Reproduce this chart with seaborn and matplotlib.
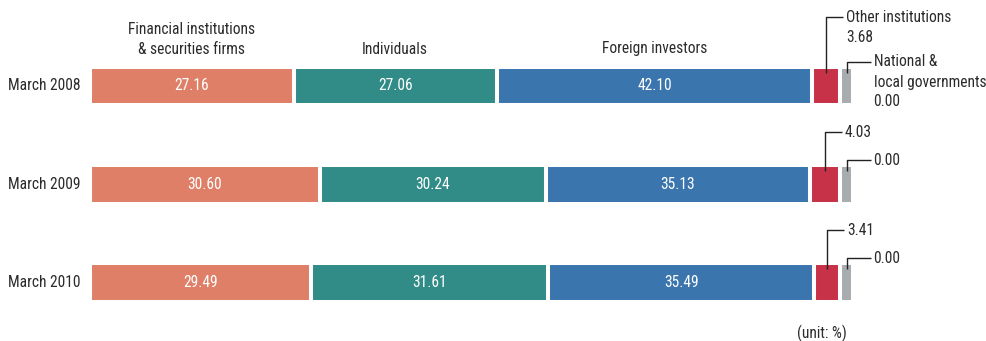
import matplotlib
matplotlib.use("Agg")
import matplotlib.pyplot as plt
from matplotlib import font_manager
import numpy as np
import pandas as pd
import seaborn as sns

# Shareholding by type of holder (%)
periods = ["March 2008", "March 2009", "March 2010"]
holders = [
    "Financial institutions\n& securities firms",
    "Individuals",
    "Foreign investors",
    "Other institutions",
    "National &\nlocal governments",
]
financial = [27.16, 30.60, 29.49]
individuals = [27.06, 30.24, 31.61]
foreign = [42.10, 35.13, 35.49]
other = [3.68, 4.03, 3.41]
government = [0.00, 0.00, 0.00]

colors = ["#E07F67", "#318C87", "#3B75AE", "#C73248", "#A8ACAF"]

sns.set_theme(style="white")
available = {f.name for f in font_manager.fontManager.ttflist}
family = "DejaVu Sans"
for cand in ["Liberation Sans Narrow", "Roboto Condensed", "Open Sans Condensed",
             "Noto Sans Condensed", "Liberation Sans", "Noto Sans"]:
    if cand in available:
        family = cand
        break
plt.rcParams["font.family"] = [family, "DejaVu Sans"]

FS = 11.2
TXT = "#2b2b2b"

fig = plt.figure(figsize=(9.86, 3.41), dpi=100)
ax = fig.add_axes([0, 0, 1, 1])

# pixel-based layout of the axes
PX = 7.5          # pixels per percentage point
X0 = 90           # pixel position of 0 %
ROW0 = 86         # pixel centre of first row
ROWSTEP = 98.2    # pixel spacing between rows
W, H = 986, 341


def dx(p):
    return p / PX


def dy(p):
    return p / ROWSTEP


stub = 1.75  # smallest drawn width so a zero share stays visible

series = [financial, individuals, foreign, other,
          [max(v, stub) for v in government]]
cum = np.cumsum(np.array(series), axis=0)

# stacked bars: draw cumulative totals from the outermost segment inwards
for k in range(len(series) - 1, -1, -1):
    df = pd.DataFrame({"period": periods, "end": cum[k]})
    sns.barplot(data=df, x="end", y="period", orient="h", color=colors[k],
                saturation=1, width=0.397, edgecolor="white", linewidth=2.9,
                errorbar=None, ax=ax)

ax.set_xlim(-dx(X0), (W - X0) / PX)
ax.set_ylim((H - ROW0) / ROWSTEP, -ROW0 / ROWSTEP)
ax.axis("off")

# period labels
for i, p in enumerate(periods):
    ax.text(dx(8 - X0), i, p, ha="left", va="center", fontsize=FS, color=TXT)

# values inside the three main segments
for i in range(len(periods)):
    for k in range(3):
        start = cum[k][i] - series[k][i]
        ax.text(start + series[k][i] / 2, i, f"{series[k][i]:.2f}",
                ha="center", va="center", fontsize=FS, color="white")

# column headers above the first row
for k in range(3):
    center = cum[k][0] - series[k][0] / 2
    lines = holders[k].split("\n")
    for j, line in enumerate(reversed(lines)):
        ax.text(center, dy(49 - ROW0) - dy(19.5) * j, line,
                ha="center", va="center", fontsize=FS, color=TXT)

# leader-line labels for the two small segments
line_kw = dict(color="#222222", lw=1.0, solid_capstyle="butt")
for i in range(len(periods)):
    # other institutions
    xc = cum[3][i] - series[3][i] / 2
    rise = 69 if i == 0 else 52
    ytop = i - dy(rise)
    ybot = i - dy(13)
    ax.plot([xc, xc, xc + dx(17)], [ybot, ytop, ytop], **line_kw)
    lines = ([holders[3]] if i == 0 else []) + [f"{other[i]:.2f}"]
    for j, line in enumerate(lines):
        ax.text(xc + dx(20), ytop + dy(21) * j, line, ha="left", va="center",
                fontsize=FS, color=TXT)

    # national & local governments
    xg = cum[4][i] - series[4][i] / 2
    ytop = i - dy(24)
    ax.plot([xg, xg, xg + dx(24)], [ybot, ytop, ytop], **line_kw)
    lines = (holders[4].split("\n") if i == 0 else []) + [f"{government[i]:.2f}"]
    for j, line in enumerate(lines):
        ax.text(xg + dx(27), ytop + dy(20) * j, line, ha="left", va="center",
                fontsize=FS, color=TXT)

ax.text(dx(797 - X0), dy(333 - ROW0), "(unit: %)", ha="left", va="center",
        fontsize=FS, color=TXT)

fig.savefig("out.png", dpi=100)
